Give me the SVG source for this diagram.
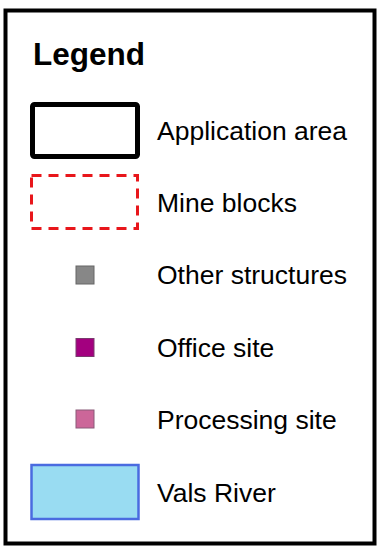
<svg xmlns="http://www.w3.org/2000/svg" width="383" height="549" viewBox="0 0 383 549">
<style>
text{font-family:"Liberation Sans",Arial,sans-serif;fill:#000}
.lbl{font-size:26.5px}
.title{font-size:31.5px;font-weight:bold}
.sq{stroke-width:1}
</style>
<rect width="383" height="549" fill="#fff"/>
<rect id="frame" x="5.5" y="10.5" width="369" height="533" fill="#fff" stroke="#000" stroke-width="4"/>
<text class="title" x="33" y="65">Legend</text>
<g id="application-area">
<rect x="32.5" y="104.5" width="105" height="52" rx="2" fill="#fff" stroke="#000" stroke-width="5"/>
<text class="lbl" x="157" y="140">Application area</text>
</g>
<g id="mine-blocks">
<rect x="31.5" y="175.5" width="106" height="53" fill="none" stroke="#e8161b" stroke-width="3" stroke-dasharray="10,7"/>
<text class="lbl" x="157" y="212">Mine blocks</text>
</g>
<g id="other-structures">
<rect class="sq" x="76" y="266" width="18" height="18" fill="#878787" stroke="#666"/>
<text class="lbl" x="157" y="283.5">Other structures</text>
</g>
<g id="office-site">
<rect class="sq" x="76" y="338.5" width="18" height="18" fill="#a3007f" stroke="#7a3a6e"/>
<text class="lbl" x="157" y="357">Office site</text>
</g>
<g id="processing-site">
<rect class="sq" x="76" y="410" width="18" height="18" fill="#cc6699" stroke="#8a5a78"/>
<text class="lbl" x="157" y="428.5">Processing site</text>
</g>
<g id="vals-river">
<rect x="31.5" y="465" width="107" height="54" fill="#99dcf2" stroke="#4a6be0" stroke-width="2.5"/>
<text class="lbl" x="157" y="502">Vals River</text>
</g>
<g id="connectors"/>
</svg>
